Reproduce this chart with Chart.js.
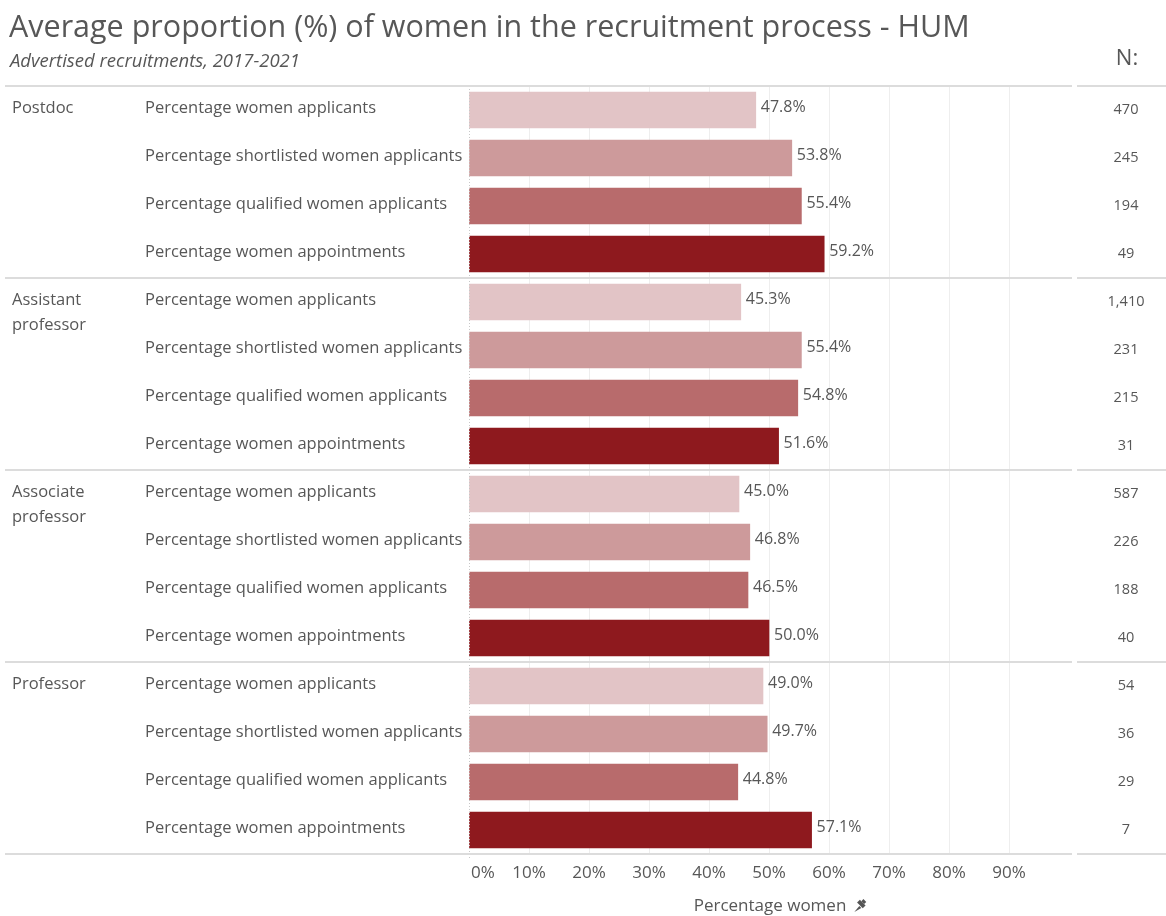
<!DOCTYPE html>
<html>
<head>
<meta charset="utf-8">
<script src="https://cdn.jsdelivr.net/npm/chart.js@4.4.1/dist/chart.umd.min.js"></script>
<style>
  html, body { margin: 0; padding: 0; background: #fff; }
  canvas { display: block; }
</style>
</head>
<body>
<canvas id="chart" width="1166" height="916"></canvas>
<script>
const groups = ["Postdoc", "Assistant\nprofessor", "Associate\nprofessor", "Professor"];
const measures = [
  "Percentage women applicants",
  "Percentage shortlisted women applicants",
  "Percentage qualified women applicants",
  "Percentage women appointments"
];
const postdocValues = [47.8, 53.8, 55.4, 59.2];
const assistantValues = [45.3, 55.4, 54.8, 51.6];
const associateValues = [45.0, 46.8, 46.5, 50.0];
const professorValues = [49.0, 49.7, 44.8, 57.1];
const postdocN = ["470", "245", "194", "49"];
const assistantN = ["1,410", "231", "215", "31"];
const associateN = ["587", "226", "188", "40"];
const professorN = ["54", "36", "29", "7"];
const xTicks = [0, 10, 20, 30, 40, 50, 60, 70, 80, 90];
const measureColors = ["#e2c4c6", "#cd9a9b", "#b86b6c", "#8e191e"];

const allValues = [postdocValues, assistantValues, associateValues, professorValues].flat();
const allN = [postdocN, assistantN, associateN, professorN].flat();
const rowLabels = groups.flatMap((g) => measures.map((m) => g + "|" + m));

const textColor = "#575757";
const font = "'Open Sans', 'Noto Sans', sans-serif";

const tablePlugin = {
  id: "table",
  afterDraw(chart) {
    const ctx = chart.ctx;
    const area = chart.chartArea;
    const x = chart.scales.x;
    const y = chart.scales.y;
    const rowH = (area.bottom - area.top) / rowLabels.length;
    ctx.save();

    // titles
    ctx.fillStyle = textColor;
    ctx.textBaseline = "alphabetic";
    ctx.textAlign = "left";
    ctx.font = "30.5px " + font;
    ctx.fillText("Average proportion (%) of women in the recruitment process - HUM", 9, 37);
    ctx.font = "italic 18.5px " + font;
    ctx.fillText("Advertised recruitments, 2017-2021", 10, 67);
    ctx.textAlign = "center";
    ctx.font = "22px " + font;
    ctx.fillText("N:", 1127, 65);

    // 0% dotted line
    ctx.strokeStyle = "#c8c8c8";
    ctx.lineWidth = 1;
    ctx.setLineDash([1, 2]);
    const x0 = Math.round(x.getPixelForValue(0)) + 0.5;
    ctx.beginPath();
    ctx.moveTo(x0, area.top);
    ctx.lineTo(x0, area.bottom + 4);
    ctx.stroke();
    ctx.setLineDash([]);

    // group separators
    ctx.strokeStyle = "#dcdcdc";
    ctx.lineWidth = 2;
    for (let g = 0; g <= groups.length; g++) {
      const yy = area.top + g * measures.length * rowH;
      ctx.beginPath();
      ctx.moveTo(5, yy);
      ctx.lineTo(1072, yy);
      ctx.moveTo(1077, yy);
      ctx.lineTo(1166, yy);
      ctx.stroke();
    }

    // labels, values and counts
    ctx.textBaseline = "middle";
    rowLabels.forEach((label, i) => {
      const cy = y.getPixelForValue(i);
      const [group, measure] = label.split("|");
      ctx.fillStyle = textColor;
      if (i % measures.length === 0) {
        ctx.textAlign = "left";
        ctx.font = "16.5px " + font;
        group.split("\n").forEach((line, k) => ctx.fillText(line, 12, cy - 2 + k * 25));
      }
      ctx.textAlign = "left";
      ctx.font = "16.5px " + font;
      ctx.fillText(measure, 145, cy - 2);
      ctx.font = "16px " + font;
      ctx.fillText(allValues[i].toFixed(1) + "%", x.getPixelForValue(allValues[i]) + 5, cy - 3);
      ctx.textAlign = "center";
      ctx.font = "14.5px " + font;
      ctx.fillText(allN[i], 1126, cy);
    });

    // x ticks
    ctx.font = "17px " + font;
    ctx.textBaseline = "middle";
    xTicks.forEach((t, i) => {
      const px = x.getPixelForValue(t);
      ctx.textAlign = i === 0 ? "left" : "center";
      ctx.fillText(t + "%", i === 0 ? px + 2 : px, 873);
    });
    ctx.textAlign = "center";
    const axisTitle = "Percentage women";
    const titleW = ctx.measureText(axisTitle).width;
    ctx.fillText(axisTitle, 770, 906);
    // pin glyph
    const pinX = 770 + titleW / 2 + 14;
    ctx.fillStyle = "#555";
    ctx.beginPath();
    ctx.moveTo(pinX - 6, 912);
    ctx.lineTo(pinX - 1, 906);
    ctx.lineTo(pinX + 1, 908);
    ctx.closePath();
    ctx.fill();
    ctx.save();
    ctx.translate(pinX + 1, 904);
    ctx.rotate(Math.PI / 4);
    ctx.fillRect(-4, -2, 8, 4);
    ctx.fillRect(-2, -5, 4, 3);
    ctx.restore();

    ctx.restore();
  }
};

new Chart(document.getElementById("chart"), {
  type: "bar",
  data: {
    labels: rowLabels,
    datasets: [
      {
        data: allValues,
        backgroundColor: rowLabels.map((_, i) => measureColors[i % measureColors.length]),
        borderWidth: 0,
        barThickness: 36
      }
    ]
  },
  options: {
    indexAxis: "y",
    responsive: false,
    animation: false,
    layout: { padding: { left: 469, right: 97, top: 86, bottom: 62 } },
    scales: {
      x: {
        min: 0,
        max: 100,
        ticks: { display: false, stepSize: 10 },
        border: { display: false },
        grid: {
          drawTicks: false,
          color: (c) => (c.tick && (c.tick.value === 0 || c.tick.value === 100) ? "rgba(0,0,0,0)" : "#eeeeee")
        }
      },
      y: { display: false }
    },
    plugins: {
      legend: { display: false },
      tooltip: { enabled: false }
    }
  },
  plugins: [tablePlugin]
});
</script>
</body>
</html>
